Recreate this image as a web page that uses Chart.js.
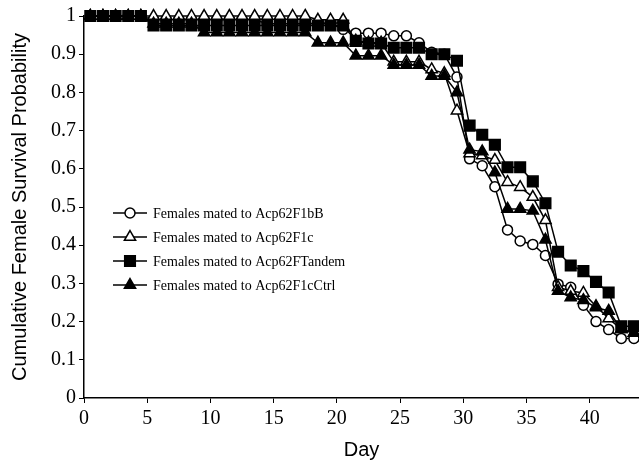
<!DOCTYPE html>
<html>
<head>
<meta charset="utf-8">
<script src="https://cdn.jsdelivr.net/npm/chart.js@4.4.0/dist/chart.umd.min.js"></script>
<style>
    html, body { margin: 0; padding: 0; background: #fff; }
</style>
</head>
<body>
<canvas id="survivalChart" width="639" height="464"></canvas>
<script>
// day of each observation (markers sit half way between the integer ticks)
var days = [0.5, 1.5, 2.5, 3.5, 4.5, 5.5, 6.5, 7.5, 8.5, 9.5, 10.5, 11.5, 12.5, 13.5, 14.5,
    15.5, 16.5, 17.5, 18.5, 19.5, 20.5, 21.5, 22.5, 23.5, 24.5, 25.5, 26.5, 27.5, 28.5,
    29.5, 30.5, 31.5, 32.5, 33.5, 34.5, 35.5, 36.5, 37.5, 38.5, 39.5, 40.5, 41.5, 42.5, 43.5];

var seriesNames = [
    'Females mated to Acp62F1bB',
    'Females mated to Acp62F1c',
    'Females mated to Acp62FTandem',
    'Females mated to Acp62F1cCtrl'
];

var f1bB = [1, 1, 1, 1, 1, 0.99, 0.99, 0.99, 0.99, 0.99, 0.99, 0.99, 0.99, 0.99, 0.98,
    0.98, 0.98, 0.98, 0.98, 0.98, 0.965, 0.955, 0.955, 0.955, 0.948, 0.948, 0.93, 0.905, 0.9,
    0.84, 0.626, 0.608, 0.553, 0.44, 0.411, 0.402, 0.373, 0.298, 0.29, 0.243, 0.2, 0.179, 0.156, 0.156];

var f1c = [1, 1, 1, 1, 1, 1, 1, 1, 1, 1, 1, 1, 1, 1, 1,
    1, 1, 1, 0.99, 0.99, 0.99, 0.935, 0.93, 0.93, 0.88, 0.88, 0.88, 0.86, 0.85,
    0.752, 0.64, 0.635, 0.623, 0.565, 0.552, 0.526, 0.465, 0.29, 0.28, 0.275, 0.24, 0.208, 0.18, 0.17];

var fTandem = [1, 1, 1, 1, 1, 0.975, 0.975, 0.975, 0.975, 0.975, 0.975, 0.975, 0.975, 0.975, 0.975,
    0.975, 0.975, 0.975, 0.975, 0.975, 0.975, 0.935, 0.928, 0.928, 0.917, 0.917, 0.917, 0.9, 0.9,
    0.883, 0.713, 0.689, 0.663, 0.604, 0.604, 0.567, 0.51, 0.383, 0.347, 0.332, 0.304, 0.276, 0.188, 0.188];

var f1cCtrl = [1, 1, 1, 1, 1, 0.98, 0.98, 0.98, 0.98, 0.957, 0.957, 0.957, 0.957, 0.957, 0.957,
    0.957, 0.957, 0.957, 0.93, 0.93, 0.93, 0.896, 0.896, 0.896, 0.872, 0.872, 0.872, 0.843, 0.843,
    0.8, 0.65, 0.645, 0.59, 0.495, 0.495, 0.49, 0.414, 0.28, 0.263, 0.256, 0.237, 0.228, 0.18, 0.17];

function toPoints(values) {
    return values.map(function (v, i) {
        return { x: days[i], y: v };
    });
}

var markerStyles = [
    { pointStyle: 'circle', radius: 5, fill: '#fff', order: 3 },
    { pointStyle: 'triangle', radius: 6.5, fill: '#fff', order: 2 },
    { pointStyle: 'rect', radius: 7.5, fill: '#000', order: 0 },
    { pointStyle: 'triangle', radius: 6.5, fill: '#000', order: 1 }
];

var allValues = [f1bB, f1c, fTandem, f1cCtrl];

var datasets = allValues.map(function (values, i) {
    var m = markerStyles[i];
    return {
        label: seriesNames[i],
        data: toPoints(values),
        borderColor: '#000',
        borderWidth: 1.5,
        pointStyle: m.pointStyle,
        pointRadius: m.radius,
        pointBackgroundColor: m.fill,
        pointBorderColor: '#000',
        pointBorderWidth: 1.5,
        order: m.order,
        tension: 0,
        fill: false,
        clip: false
    };
});

// legend drawn inside the plot area, like the original figure
var insideLegend = {
    id: 'insideLegend',
    afterDatasetsDraw: function (chart) {
        var ctx = chart.ctx;
        ctx.save();
        chart.data.datasets.forEach(function (ds, i) {
            var y = 213 + i * 24;
            ctx.strokeStyle = '#000';
            ctx.lineWidth = 1.5;
            ctx.beginPath();
            ctx.moveTo(113, y);
            ctx.lineTo(147, y);
            ctx.stroke();
            ctx.fillStyle = ds.pointBackgroundColor;
            Chart.helpers.drawPoint(ctx, {
                pointStyle: ds.pointStyle,
                radius: ds.pointRadius,
                rotation: 0,
                borderWidth: 1.5
            }, 130, y);
            ctx.fillStyle = '#000';
            ctx.font = '14px "Liberation Serif", "Times New Roman", serif';
            ctx.textBaseline = 'middle';
            ctx.textAlign = 'left';
            ctx.fillText(ds.label, 153, y + 1);
        });
        ctx.restore();
    }
};

var serif = { family: '"Liberation Serif", "Times New Roman", serif', size: 20 };
var sans = { family: '"Liberation Sans", Arial, sans-serif', size: 20 };

new Chart(document.getElementById('survivalChart').getContext('2d'), {
    type: 'line',
    data: { datasets: datasets },
    plugins: [insideLegend],
    options: {
        responsive: false,
        animation: false,
        layout: { autoPadding: false, padding: { top: 16, right: 0, left: 0, bottom: 0 } },
        plugins: {
            legend: { display: false },
            tooltip: { enabled: false }
        },
        scales: {
            x: {
                type: 'linear',
                min: 0,
                max: 43.9,
                ticks: {
                    stepSize: 5,
                    includeBounds: false,
                    color: '#000',
                    font: serif,
                    padding: 4,
                    maxRotation: 0
                },
                grid: { drawOnChartArea: false, tickLength: 5, color: '#000', lineWidth: 1 },
                border: { color: '#000', width: 1.5 },
                title: { display: true, text: 'Day', color: '#000', font: sans, padding: { top: 2, bottom: 2 } },
                afterFit: function (scale) { scale.height = 66; }
            },
            y: {
                min: 0,
                max: 1,
                ticks: {
                    stepSize: 0.1,
                    color: '#000',
                    font: serif,
                    padding: 3,
                    callback: function (v) { return Math.round(v * 10) / 10; }
                },
                grid: { drawOnChartArea: false, tickLength: 5, color: '#000', lineWidth: 1 },
                border: { color: '#000', width: 1.5 },
                title: { display: true, text: 'Cumulative Female Survival Probability', color: '#000', font: sans, padding: { top: 8, bottom: 0 } },
                afterFit: function (scale) { scale.width = 84; }
            }
        }
    }
});
</script>
</body>
</html>
